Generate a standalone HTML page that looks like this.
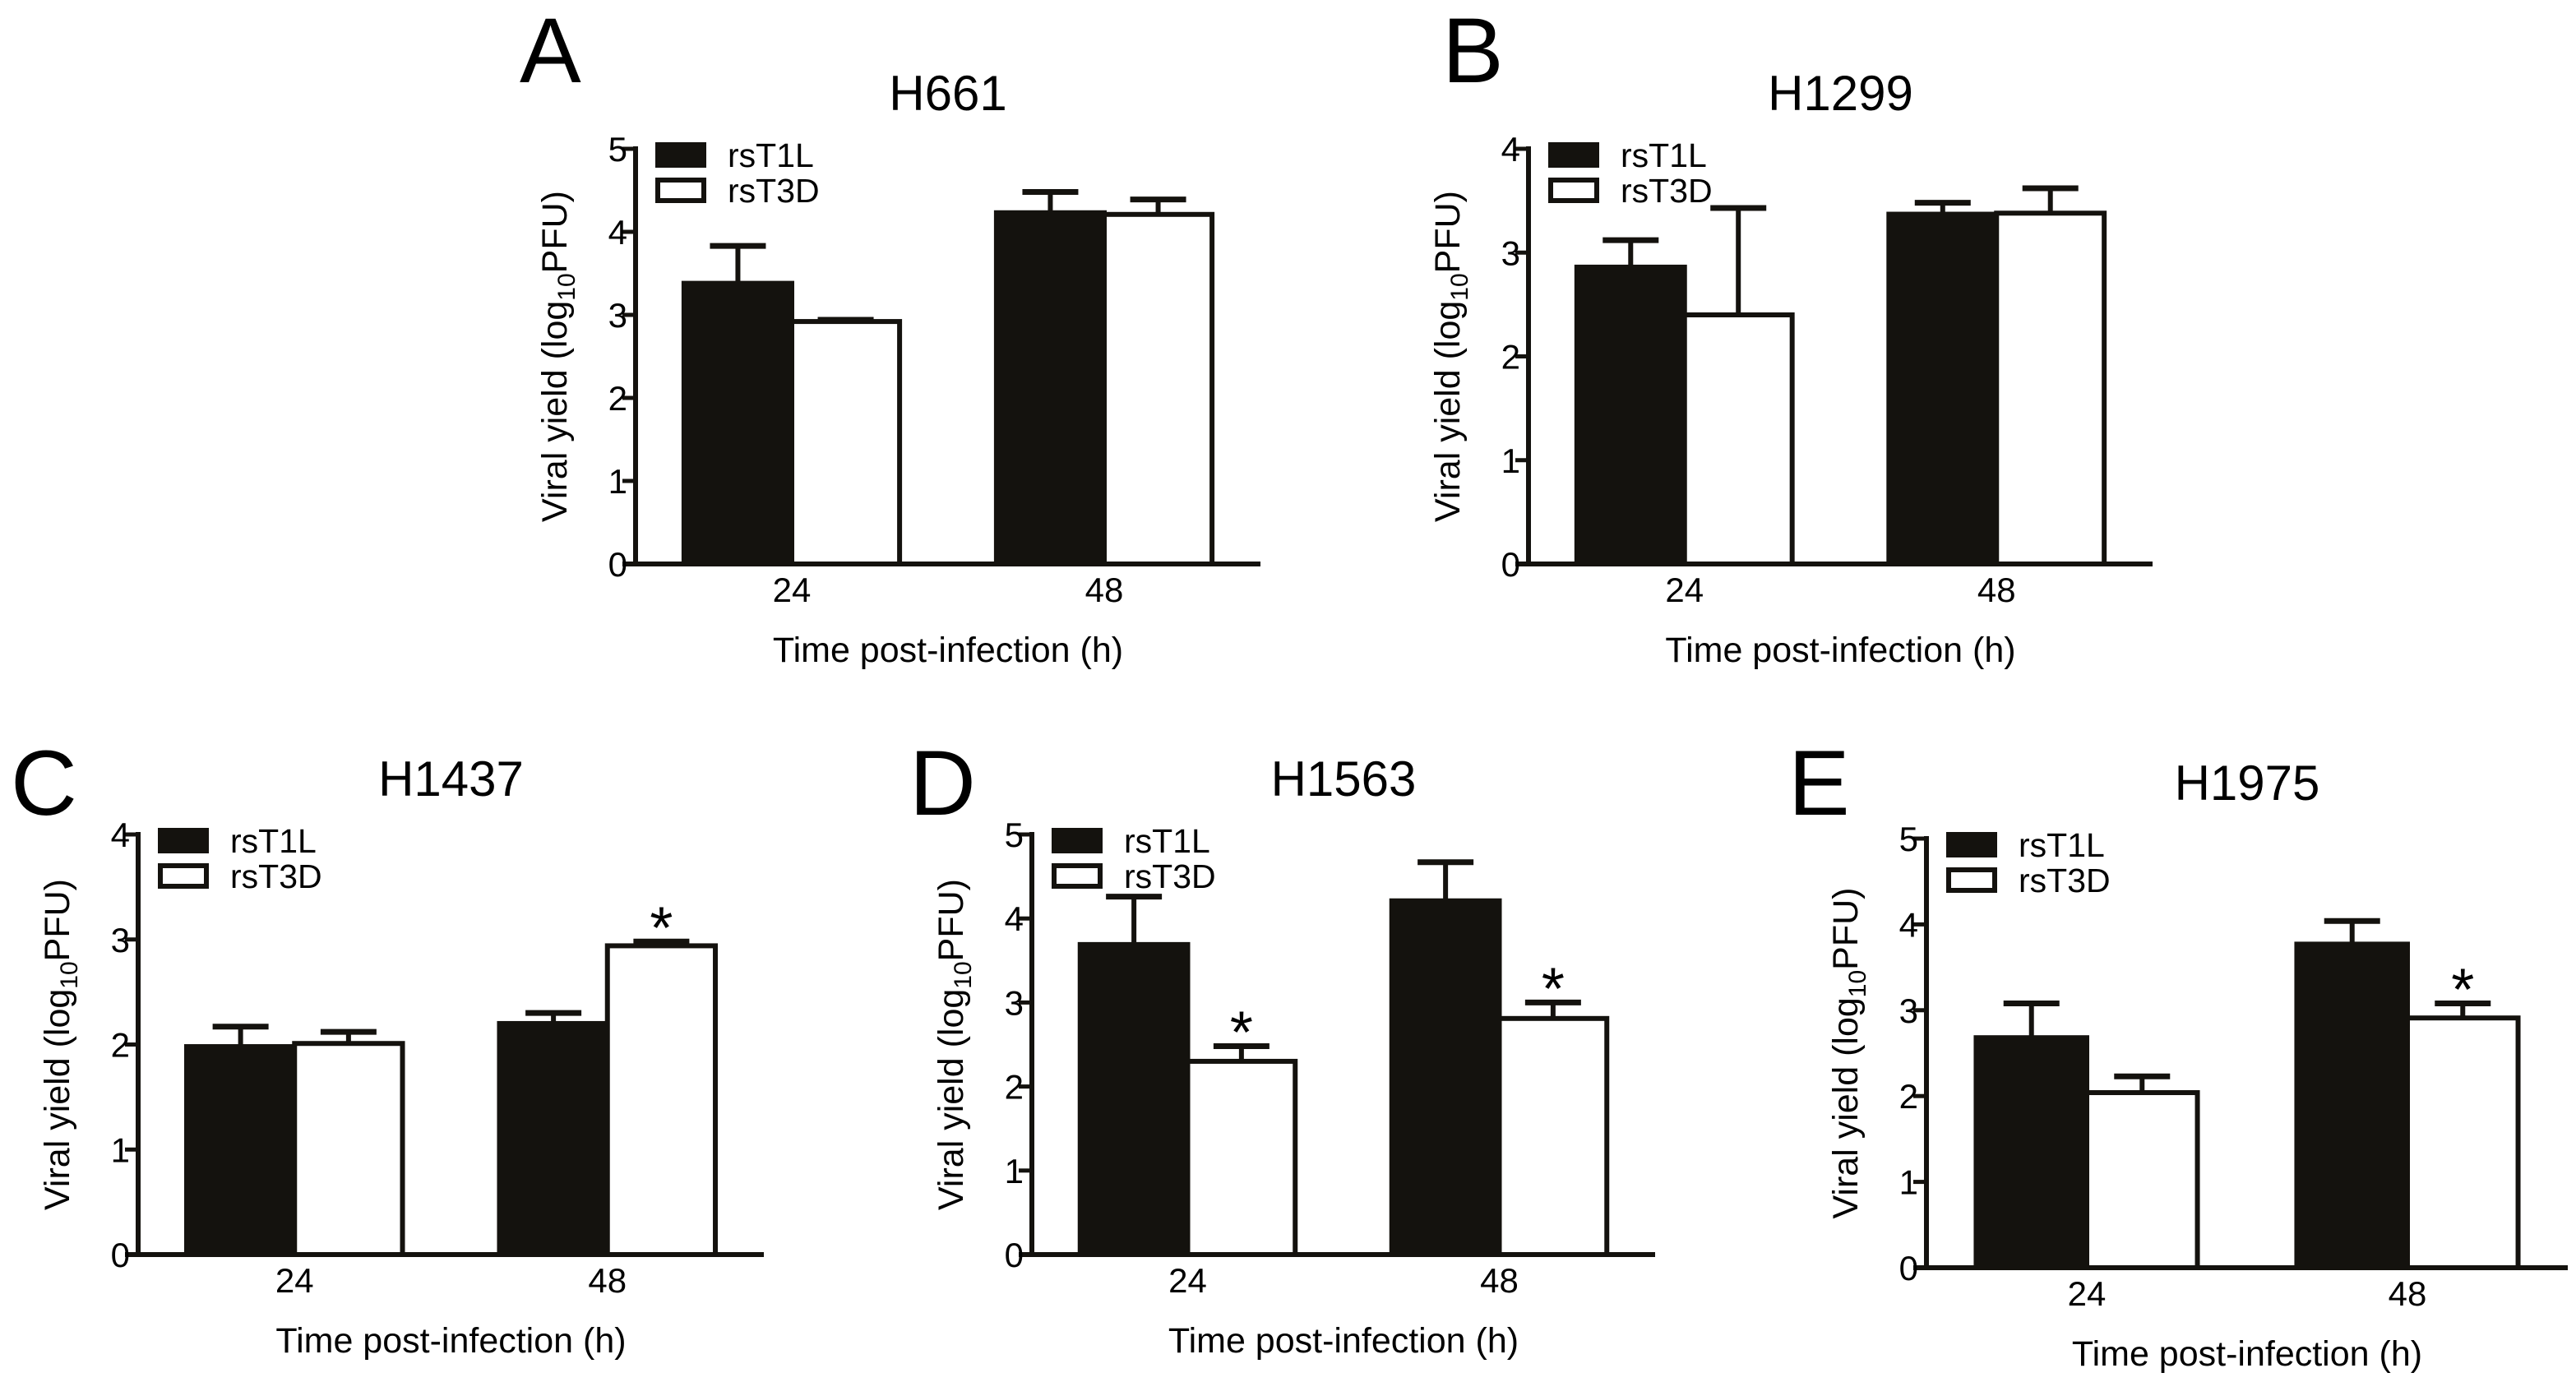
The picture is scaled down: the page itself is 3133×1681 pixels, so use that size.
<!DOCTYPE html>
<html><head><meta charset="utf-8"><style>
body{margin:0;background:#fff}
svg{display:block;font-family:"Liberation Sans",Arial,sans-serif}
</style></head><body>
<svg id="fig" width="3133" height="1681" viewBox="0 0 3133 1681" xmlns="http://www.w3.org/2000/svg"></svg>
<script>
const categories = ["24", "48"];
const seriesNames = ["rsT1L", "rsT3D"];
// panel A H661
const aT1L = [3.38, 4.23], aT1LErr = [0.45, 0.25];
const aT3D = [2.92, 4.21], aT3DErr = [0.02, 0.18];
const aTicks = ["0","1","2","3","4","5"];
// panel B H1299
const bT1L = [2.86, 3.37], bT1LErr = [0.26, 0.11];
const bT3D = [2.40, 3.38], bT3DErr = [1.03, 0.24];
const bTicks = ["0","1","2","3","4"];
// panel C H1437
const cT1L = [1.98, 2.20], cT1LErr = [0.19, 0.10];
const cT3D = [2.01, 2.94], cT3DErr = [0.11, 0.04];
const cTicks = ["0","1","2","3","4"];
const cStars = [false, true];
// panel D H1563
const dT1L = [3.69, 4.21], dT1LErr = [0.57, 0.46];
const dT3D = [2.30, 2.81], dT3DErr = [0.18, 0.19];
const dTicks = ["0","1","2","3","4","5"];
const dStars = [true, true];
// panel E H1975
const eT1L = [2.68, 3.77], eT1LErr = [0.40, 0.27];
const eT3D = [2.04, 2.91], eT3DErr = [0.19, 0.17];
const eTicks = ["0","1","2","3","4","5"];
const eStars = [false, true];

const NS = "http://www.w3.org/2000/svg";
const svg = document.getElementById("fig");
function mk(tag, attrs, parent){
  const e = document.createElementNS(NS, tag);
  for (const k in attrs) e.setAttribute(k, attrs[k]);
  (parent||svg).appendChild(e);
  return e;
}
const panels = [
  {id:"a", title:"H661", letter:"A", lx:632, ly:100, ax:773, y0:686, yTop:181, len:760, t1:aT1L, e1:aT1LErr, t3:aT3D, e3:aT3DErr, ticks:aTicks, stars:[false,false]},
  {id:"b", title:"H1299", letter:"B", lx:1754, ly:100, ax:1859, y0:686, yTop:181, len:759, t1:bT1L, e1:bT1LErr, t3:bT3D, e3:bT3DErr, ticks:bTicks, stars:[false,false]},
  {id:"c", title:"H1437", letter:"C", lx:13, ly:991, ax:168, y0:1526, yTop:1015, len:761, t1:cT1L, e1:cT1LErr, t3:cT3D, e3:cT3DErr, ticks:cTicks, stars:cStars},
  {id:"d", title:"H1563", letter:"D", lx:1106, ly:991, ax:1255, y0:1526, yTop:1015, len:758, t1:dT1L, e1:dT1LErr, t3:dT3D, e3:dT3DErr, ticks:dTicks, stars:dStars},
  {id:"e", title:"H1975", letter:"E", lx:2175, ly:991, ax:2343, y0:1542, yTop:1020, len:780, t1:eT1L, e1:eT1LErr, t3:eT3D, e3:eT3DErr, ticks:eTicks, stars:eStars}
];
panels.forEach(p => {
  const g = mk("g", {});
  
  
  const ymax = p.ticks.length - 1;
  const yS = v => p.y0 - (v / ymax) * (p.y0 - p.yTop);
  const band = p.len / categories.length;
  const bw = band * 0.345;
  const xC = i => p.ax + (i + 0.5) * band;

  const L = mk("text", {x:p.lx, y:p.ly, "font-size":112, fill:"#000"}, g);
  L.textContent = p.letter;
  
  
  const T = mk("text", {x:p.ax + p.len/2, y:p.yTop - 47, "font-size":60, "text-anchor":"middle", fill:"#000"}, g);
  T.textContent = p.title;
  
  

  categories.forEach((c, i) => {
    [[p.t1, p.e1, "#14120e", 0], [p.t3, p.e3, "#fff", 1]].forEach(([vals, errs, fill, s]) => {
      const x0 = xC(i) - bw + s * bw;
      const top = yS(vals[i]);
      const cx = x0 + bw/2;
      const et = yS(vals[i] + errs[i]);
      const el = mk("line", {x1:cx, x2:cx, y1:top, y2:et, stroke:"#14120e", "stroke-width":6}, g);
      
      
      const ec = mk("line", {x1:cx-34, x2:cx+34, y1:et, y2:et, stroke:"#14120e", "stroke-width":7}, g);
      
      
      const r = mk("rect", {x:x0, y:top, width:bw, height:p.y0-top, fill:fill, stroke:"#14120e", "stroke-width":6}, g);
      
      
      if (s === 1 && p.stars[i]) {
        const st = mk("text", {x:cx, y:et + 8, "font-size":72, "text-anchor":"middle", fill:"#000"}, g);
        st.textContent = "*";
        
        
      }
    });
    const tl = mk("text", {x:xC(i), y:p.y0 + 46, "font-size":42, "text-anchor":"middle", fill:"#000"}, g);
    tl.textContent = c;
    
    
  });

  const ya = mk("line", {x1:p.ax, x2:p.ax, y1:p.yTop-3, y2:p.y0+3, stroke:"#14120e", "stroke-width":6}, g);
  
  
  const xa = mk("line", {x1:p.ax-16, x2:p.ax+p.len, y1:p.y0, y2:p.y0, stroke:"#14120e", "stroke-width":6}, g);
  
  
  p.ticks.forEach((t, k) => {
    const y = yS(k);
    const tk = mk("line", {x1:p.ax-16, x2:p.ax, y1:y, y2:y, stroke:"#14120e", "stroke-width":5}, g);
    
    
    const lb = mk("text", {x:p.ax-10, y:y+15, "font-size":42, "text-anchor":"end", fill:"#000"}, g);
    lb.textContent = t;
    
    
  });

  const xt = mk("text", {x:p.ax + p.len/2, y:p.y0 + 119, "font-size":43, "text-anchor":"middle", fill:"#000"}, g);
  xt.textContent = "Time post-infection (h)";
  
  
  const cy = (p.y0 + p.yTop)/2;
  const yt = mk("text", {x:0, y:0, "font-size":43, "text-anchor":"middle", fill:"#000", transform:`translate(${p.ax-84},${cy}) rotate(-90)`}, g);
  yt.innerHTML = 'Viral yield (log<tspan font-size="30" dy="10">10</tspan><tspan dy="-10">PFU)</tspan>';
  
  

  [["#14120e", 0], ["#fff", 1]].forEach(([fill, s]) => {
    const ly = p.yTop - 5 + s * 43;
    const box = mk("rect", {x:p.ax+27, y:ly, width:56, height:25, fill:fill, stroke:"#14120e", "stroke-width":6}, g);
    
    
    const lt = mk("text", {x:p.ax+112, y:ly+27, "font-size":41, fill:"#000"}, g);
    lt.textContent = seriesNames[s];
    
    
  });
});
</script>
</body></html>
